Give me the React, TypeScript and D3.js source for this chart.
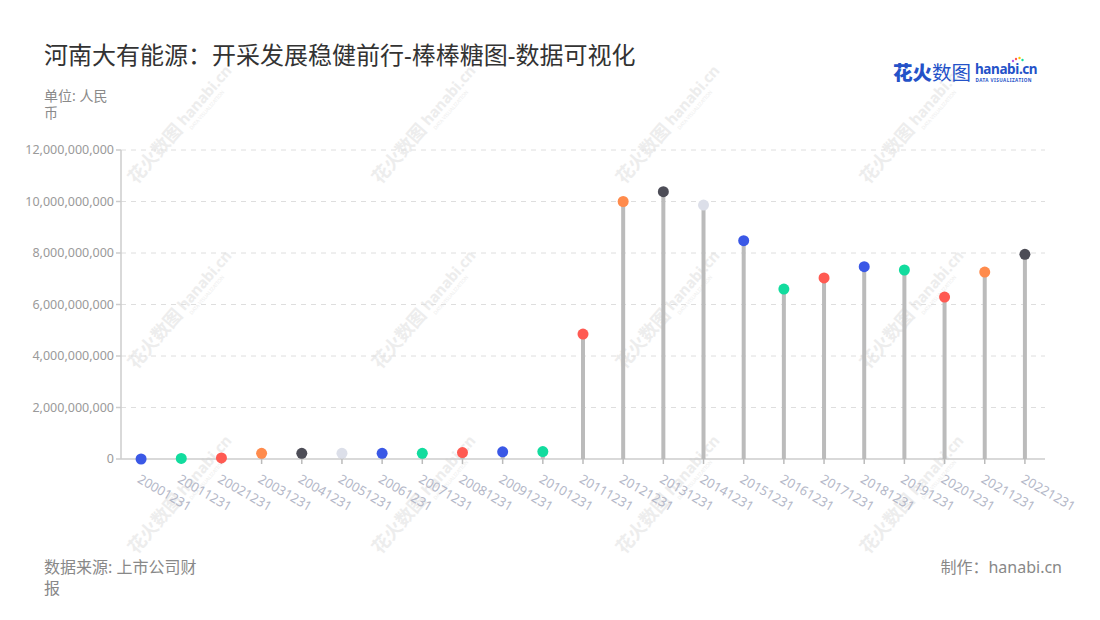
import React from "react";
import * as d3 from "d3";

const categories = [
  "20001231", "20011231", "20021231", "20031231", "20041231", "20051231",
  "20061231", "20071231", "20081231", "20091231", "20101231", "20111231",
  "20121231", "20131231", "20141231", "20151231", "20161231", "20171231",
  "20181231", "20191231", "20201231", "20211231", "20221231",
];
const values = [
  0.0e9, 0.02e9, 0.04e9, 0.22e9, 0.22e9, 0.22e9,
  0.22e9, 0.22e9, 0.25e9, 0.28e9, 0.29e9, 4.85e9,
  10.0e9, 10.38e9, 9.86e9, 8.48e9, 6.6e9, 7.03e9,
  7.47e9, 7.34e9, 6.29e9, 7.26e9, 7.95e9,
];
const yTicks = [0, 2e9, 4e9, 6e9, 8e9, 10e9, 12e9];
const palette = ["#3a58e6", "#12dc9e", "#ff5a52", "#ff8b4c", "#4d4d57", "#dcdfe9", "#3a58e6", "#12dc9e", "#ff5a52"];

const titleText = "河南大有能源：开采发展稳健前行-棒棒糖图-数据可视化";
const unitLines = ["单位: 人民", "币"];
const sourceLines = ["数据来源: 上市公司财", "报"];
const creditText = "制作：hanabi.cn";

const wmCols = [183, 427, 671, 915];
const wmRows = [125, 310, 495];

const FONT = "'Noto Sans', 'Noto Sans CJK SC', sans-serif";

export default function App() {
  const W = 1100, H = 620;
  const left = 121, right = 1045, top = 150, bottom = 459;
  const x = d3.scaleBand<string>().domain(categories).range([left, right]).padding(0);
  const y = d3.scaleLinear().domain([0, 12e9]).range([bottom, top]);
  const fmt = d3.format(",");
  const cx = (c: string) => (x(c) as number) + x.bandwidth() / 2;

  return (
    <svg width={W} height={H} style={{ position: "absolute", left: 0, top: 0, background: "#fff" }} fontFamily={FONT}>
      <rect width={W} height={H} fill="#fff" />
      {/* watermarks */}
      {wmRows.map((ry) =>
        wmCols.map((rx) => (
          <g key={`${rx}-${ry}`} transform={`translate(${rx},${ry}) rotate(-49)`} fill="#ededed">
            <text x={-4} y={4} fontSize={18} fontWeight={700} textAnchor="end">花火数图</text>
            <text x={0} y={2} fontSize={15} fontWeight={700}>hanabi.cn</text>
            <text x={2} y={10} fontSize={5}>DATA VISUALIZATION</text>
          </g>
        ))
      )}

      {/* title */}
      <text x={44} y={64} fontSize={24} fill="#333">{titleText}</text>
      {unitLines.map((t, i) => (
        <text key={i} x={44} y={101 + i * 17} fontSize={14} fill="#8a8a8a">{t}</text>
      ))}

      {/* logo */}
      <g>
        <text x={893} y={80} fontSize={19.5} fill="#2452c8">
          <tspan fontWeight={900}>花火</tspan><tspan fontWeight={400}>数图</tspan>
        </text>
        <text x={975} y={73.5} fontSize={13.5} fontWeight={700} fill="#2452c8" letterSpacing={-0.4}>hanabi.cn</text>
        <text x={975.5} y={81.5} fontSize={4.6} fontWeight={700} fill="#2452c8" letterSpacing={0.45}>DATA VISUALIZATION</text>
        <circle cx={1016} cy={59} r={1.2} fill="#ff5a52" />
        <circle cx={1019.5} cy={58} r={1.2} fill="#ffc400" />
        <circle cx={1022.5} cy={60} r={1.2} fill="#12dc9e" />
        <circle cx={1013} cy={61} r={1.2} fill="#b55ae6" />
      </g>

      {/* grid */}
      {yTicks.filter((t) => t > 0).map((t) => (
        <line key={t} x1={left} x2={right} y1={y(t)} y2={y(t)} stroke="#dedede" strokeDasharray="5,5" strokeWidth={1} />
      ))}

      {/* y axis */}
      <line x1={left} x2={left} y1={top} y2={bottom} stroke="#cccccc" strokeWidth={1.5} />
      {yTicks.map((t) => (
        <g key={t}>
          <line x1={left - 5} x2={left} y1={y(t)} y2={y(t)} stroke="#cccccc" strokeWidth={1.5} />
          <text x={left - 7} y={y(t)} dy="0.35em" textAnchor="end" fontSize={12.5} fill="#9a9a9a">{fmt(t)}</text>
        </g>
      ))}

      {/* x axis */}
      <line x1={left} x2={right} y1={bottom} y2={bottom} stroke="#cccccc" strokeWidth={1.5} />
      {categories.map((c) => (
        <g key={c}>
          <line x1={cx(c)} x2={cx(c)} y1={bottom} y2={bottom + 5} stroke="#bbbbbb" strokeWidth={1.5} />
          <text
            transform={`translate(${cx(c) + 1},${bottom + 13}) rotate(30)`}
            fontSize={13}
            fill="#b4b8c8"
            dominantBaseline="hanging"
          >{c}</text>
        </g>
      ))}

      {/* lollipops */}
      {categories.map((c, i) => (
        <g key={c}>
          <line x1={cx(c)} x2={cx(c)} y1={bottom} y2={y(values[i])} stroke="#bbbbbb" strokeWidth={4} />
          <circle cx={cx(c)} cy={y(values[i])} r={5.5} fill={palette[i % palette.length]} />
        </g>
      ))}

      {/* footer */}
      {sourceLines.map((t, i) => (
        <text key={i} x={44} y={573 + i * 21} fontSize={16} fill="#888">{t}</text>
      ))}
      <text x={1062} y={573} fontSize={16} fill="#888" textAnchor="end">{creditText}</text>
    </svg>
  );
}
